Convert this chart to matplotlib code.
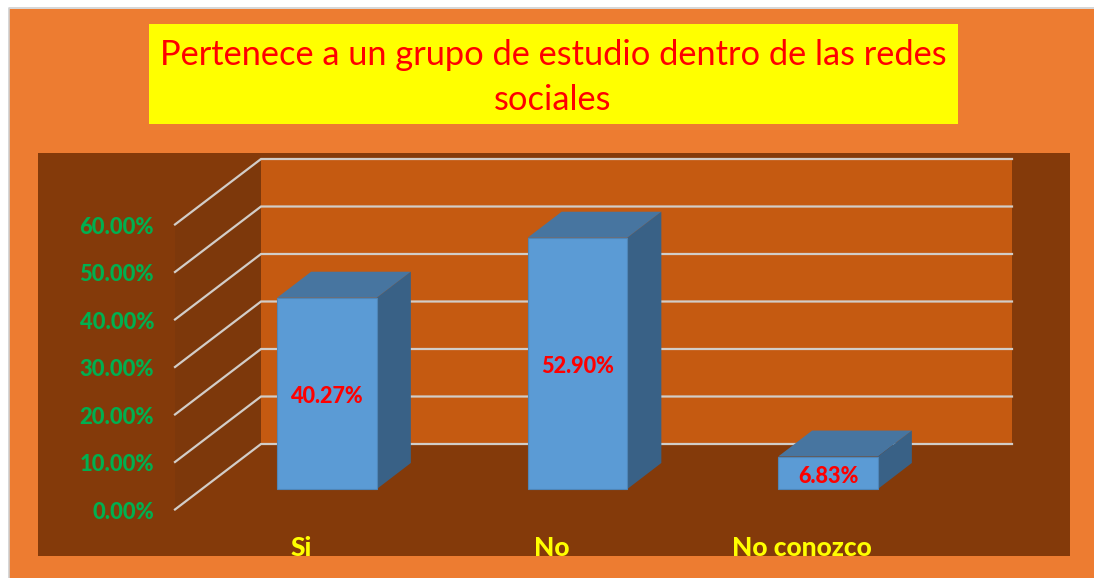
import matplotlib
matplotlib.use("Agg")
import matplotlib.pyplot as plt
from matplotlib.patches import Polygon, Rectangle

categories = ["Si", "No", "No conozco"]
values = [40.27, 52.90, 6.83]
value_labels = ["40.27%", "52.90%", "6.83%"]
ticks = [0, 10, 20, 30, 40, 50, 60]
tick_labels = ["0.00%", "10.00%", "20.00%", "30.00%", "40.00%", "50.00%", "60.00%"]
title = "Pertenece a un grupo de estudio dentro de las redes\nsociales"

W, H = 1094, 578
PX_X = 250.5  # pixels per category
PX_Y = 4.75  # pixels per percent
X0, Y0 = 327, 489


def px(x):
    return (x - X0) / PX_X


def py(y):
    return (Y0 - y) / PX_Y


def box(ax, x0, y0, x1, y1, color, z=1):
    ax.add_patch(Rectangle((px(x0), py(y1)), px(x1) - px(x0), py(y0) - py(y1),
                           facecolor=color, edgecolor="none", zorder=z))


plt.rcParams["font.family"] = ["Lato", "DejaVu Sans"]
fig = plt.figure(figsize=(W / 100, H / 100), dpi=100, facecolor="white")
ax = fig.add_axes([0, 0, 1, 1])
ax.set_xlim(px(0), px(W))
ax.set_ylim(py(H), py(0))
ax.axis("off")

# backgrounds
box(ax, 9, 9, W, H, "#ED7C31")
ax.plot([px(8.5), px(8.5), px(W)], [py(H), py(8.5), py(8.5)], color="#d0d0d0", lw=1.2, zorder=1)
box(ax, 149, 24, 958, 124, "#FFFF00", 2)
box(ax, 38, 153, 1070, 556, "#843A0A", 2)
box(ax, 261, 159, 1012, 444, "#C55A11", 3)

# side wall
side_x0, side_x1, back_x = px(175), px(261), px(1012)
front_dy, back_dy = py(509.5), py(444)
ax.add_patch(Polygon([(side_x0, front_dy), (side_x1, back_dy),
                      (side_x1, back_dy + ticks[-1]), (side_x0, front_dy + ticks[-1])],
                     facecolor="#7D380B", edgecolor="none", zorder=3))

# gridlines, running along side wall then back wall
for t, lab in zip(ticks, tick_labels):
    ax.plot([side_x0, side_x1, back_x], [t + front_dy, t + back_dy, t + back_dy],
            color="#D2CDC8", lw=1.6, zorder=4, solid_joinstyle="miter")
    ax.text(px(154), t + front_dy - 0.6, lab, color="#00B050",
            fontsize=15.8, fontweight="black", ha="right", va="center", zorder=6)

# 3d bars
bar_w = 0.398
dx = 34 / PX_X
dy = 26 / PX_Y
for i, v in enumerate(values):
    l, r = i - bar_w / 2, i + bar_w / 2
    ax.add_patch(Polygon([(l, v), (l + dx, v + dy), (r + dx, v + dy), (r, v)],
                         facecolor="#4775A0", edgecolor="none", zorder=5))
    ax.add_patch(Polygon([(r, 0), (r + dx, dy), (r + dx, v + dy), (r, v)],
                         facecolor="#396186", edgecolor="none", zorder=5))
    ax.add_patch(Rectangle((l, 0), bar_w, v, facecolor="#5B9BD5",
                           edgecolor="#4F86B8", lw=0.8, zorder=5))
    ax.text(i, v / 2 - 0.7, value_labels[i], color="#FF0000", fontsize=15.6,
            fontweight="black", ha="center", va="center", zorder=6)
    ax.text(i - 26 / PX_X, py(548), categories[i], color="#FFFF00", fontsize=19,
            fontweight="black", ha="center", va="center", zorder=6)

ax.text(px(553), py(77.5), title, color="#FF0000", fontsize=24.75, ha="center",
        va="center", linespacing=1.47, zorder=6)

fig.savefig("out.png", dpi=100)
